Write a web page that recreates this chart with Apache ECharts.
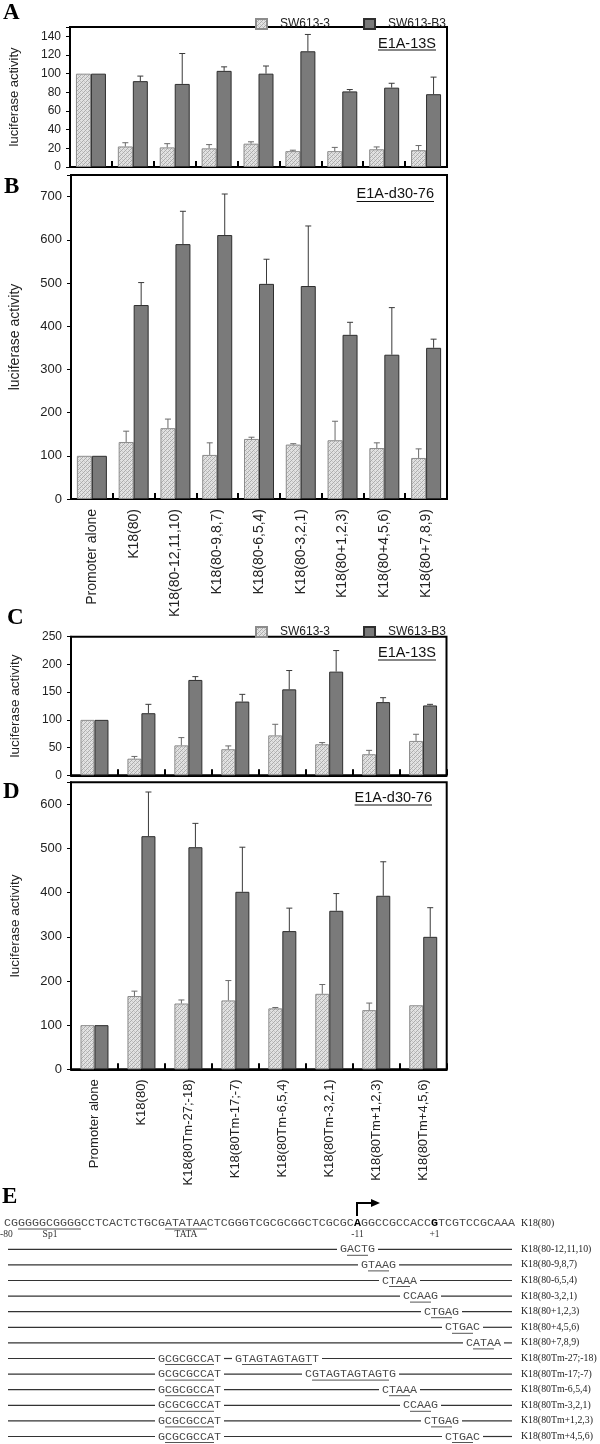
<!DOCTYPE html>
<html><head><meta charset="utf-8">
<script src="https://cdn.jsdelivr.net/npm/echarts@6/dist/echarts.min.js"></script>
<style>html,body{margin:0;padding:0;background:#fff}#c{width:600px;height:1444px}</style>
</head><body><div id="c"></div>
<script>
// ---------------- DATA ----------------
const catsAB = ['Promoter alone','K18(80)','K18(80-12,11,10)','K18(80-9,8,7)','K18(80-6,5,4)','K18(80-3,2,1)','K18(80+1,2,3)','K18(80+4,5,6)','K18(80+7,8,9)'];
const catsCD = ['Promoter alone','K18(80)','K18(80Tm-27;-18)','K18(80Tm-17;-7)','K18(80Tm-6,5,4)','K18(80Tm-3,2,1)','K18(80Tm+1,2,3)','K18(80Tm+4,5,6)'];
const seriesNames = ['SW613-3','SW613-B3'];

// Panel A (E1A-13S)
const aSW3    = [100, 22, 21, 20, 25, 17, 17, 19, 18];
const aSW3Err = [0, 4, 4, 4, 2, 1, 4, 2.5, 5];
const aB3     = [100, 92, 89, 103, 100, 124, 81, 85, 78];
const aB3Err  = [0, 5.4, 32.6, 4.3, 8.2, 18, 2, 4.7, 18.3];
// Panel B (E1A-d30-76)
const bSW3    = [100, 132, 164, 102, 139, 126, 136, 118, 95];
const bSW3Err = [0, 25, 21, 28, 4, 2, 44, 12, 21];
const bB3     = [100, 449, 590, 611, 498, 493, 380, 334, 350];
const bB3Err  = [0, 52, 76, 95, 57, 139, 29, 109, 20];
// Panel C (E1A-13S)
const cSW3    = [100, 30, 54, 47, 72, 56, 38, 62];
const cSW3Err = [0, 4, 14, 6, 20, 3, 7, 12];
const cB3     = [100, 112, 172, 133, 155, 187, 132, 126];
const cB3Err  = [0, 16, 6, 13, 34, 38, 8, 2];
// Panel D (E1A-d30-76)
const dSW3    = [100, 166, 149, 156, 138, 171, 134, 145];
const dSW3Err = [0, 11, 8, 45, 2, 21, 16, 0];
const dB3     = [100, 528, 503, 402, 313, 359, 393, 300];
const dB3Err  = [0, 100, 54, 101, 52, 39, 77, 66];

// Panel E sequence data
const seqMain = 'CGGGGGCGGGGCCTCACTCTGCGATATAACTCGGGTCGCGCGGCTCGCGCAGGCCGCCACCGTCGTCCGCAAA';
const seqBold = [50, 61];
const seqUnder = [[2,10],[23,28]];
const seqMainLabel = 'K18(80)';
const tmBox = [22,'GCGCGCCAT',1,7];
const seqRows = [
  {label:'K18(80-12,11,10)', segs:[[48,'GACTG',1,3]]},
  {label:'K18(80-9,8,7)',    segs:[[51,'GTAAG',1,3]]},
  {label:'K18(80-6,5,4)',    segs:[[54,'CTAAA',1,3]]},
  {label:'K18(80-3,2,1)',    segs:[[57,'CCAAG',1,3]]},
  {label:'K18(80+1,2,3)',    segs:[[60,'CTGAG',1,3]]},
  {label:'K18(80+4,5,6)',    segs:[[63,'CTGAC',1,3]]},
  {label:'K18(80+7,8,9)',    segs:[[66,'CATAA',1,3]]},
  {label:'K18(80Tm-27;-18)', segs:[tmBox,[33,'GTAGTAGTAGTT',1,10]]},
  {label:'K18(80Tm-17;-7)',  segs:[tmBox,[43,'CGTAGTAGTAGTG',1,11]]},
  {label:'K18(80Tm-6,5,4)',  segs:[tmBox,[54,'CTAAA',1,3]]},
  {label:'K18(80Tm-3,2,1)',  segs:[tmBox,[57,'CCAAG',1,3]]},
  {label:'K18(80Tm+1,2,3)',  segs:[tmBox,[60,'CTGAG',1,3]]},
  {label:'K18(80Tm+4,5,6)',  segs:[tmBox,[63,'CTGAC',1,3]]}
];
const seqMarks = [['-80',0,'left'],['Sp1',50,'center'],['TATA',186,'center']];

// ---------------- STYLE / LAYOUT ----------------
const SANS = '"Liberation Sans", Arial, Helvetica, sans-serif';
const SERIF = '"Liberation Serif", "Times New Roman", serif';
const MONO = '"Liberation Mono", "Courier New", monospace';

function hatchCanvas(){
  const c = document.createElement('canvas'); c.width = 4; c.height = 4;
  const g = c.getContext('2d');
  g.fillStyle = '#e2e2e2'; g.fillRect(0,0,4,4);
  g.fillStyle = '#acacac';
  g.fillRect(0,3,1,1); g.fillRect(1,2,1,1); g.fillRect(2,1,1,1); g.fillRect(3,0,1,1);
  g.fillStyle = '#c8c8c8';
  g.fillRect(0,1,1,1); g.fillRect(2,3,1,1);
  return c;
}
const hatch = {image: hatchCanvas(), repeat: 'repeat'};
const darkFill = '#7a7a7a';

const panels = [
  {grid:{left:65, top:27, width:382, height:140}, max:150, interval:20, labMax:140, cats:catsAB,
   s1:aSW3, e1:aSW3Err, s2:aB3, e2:aB3Err, bw:15, showX:false, yFont:12, nameFont:13,
   title:'E1A-13S', tx:436, ty:43.5, uy:50, letter:'A', lx:3, ly:13},
  {grid:{left:65, top:175, width:382, height:324}, max:750, interval:100, labMax:700, cats:catsAB,
   s1:bSW3, e1:bSW3Err, s2:bB3, e2:bB3Err, bw:15, showX:true, xFont:14, yFont:13, nameFont:14,
   title:'E1A-d30-76', tx:434, ty:194, uy:201.5, letter:'B', lx:4, ly:187},
  {grid:{left:66.5, top:636.7, width:380, height:138.6}, max:250, interval:50, labMax:250, cats:catsCD,
   s1:cSW3, e1:cSW3Err, s2:cB3, e2:cB3Err, bw:14, showX:false, yFont:12, nameFont:13.5,
   title:'E1A-13S', tx:436, ty:652.5, uy:660, letter:'C', lx:7, ly:618},
  {grid:{left:66, top:782.3, width:380.7, height:287}, max:650, interval:100, labMax:600, cats:catsCD,
   s1:dSW3, e1:dSW3Err, s2:dB3, e2:dB3Err, bw:14, showX:true, xFont:13, yFont:13, nameFont:13.5,
   title:'E1A-d30-76', tx:432, ty:798, uy:805, letter:'D', lx:3, ly:792}
];

const grids = [], xAxes = [], yAxes = [], series = [];

function errSeries(i, vals, errs, off, color){
  const data = [];
  vals.forEach((v, k) => { if (errs[k] > 0) data.push([k, v, v + errs[k]]); });
  return {
    type:'custom', xAxisIndex:i, yAxisIndex:i, z:5, silent:true,
    encode:{x:0, y:[1,2]}, data,
    renderItem(params, api){
      const k = api.value(0);
      const p0 = api.coord([k, api.value(1)]);
      const p1 = api.coord([k, api.value(2)]);
      const x = p0[0] + off;
      return {type:'group', children:[
        {type:'line', shape:{x1:x, y1:p0[1], x2:x, y2:p1[1]}, style:{stroke:color, lineWidth:1}},
        {type:'line', shape:{x1:x-3, y1:p1[1], x2:x+3, y2:p1[1]}, style:{stroke:color, lineWidth:1}}
      ]};
    }
  };
}

panels.forEach((p, i) => {
  grids.push(Object.assign({show:true, borderColor:'#000', borderWidth:2, containLabel:false}, p.grid));
  xAxes.push({
    type:'category', gridIndex:i, data:p.cats, boundaryGap:true,
    axisLine:{show:true, lineStyle:{color:'#000', width:2}},
    axisTick:{show:true, inside:true, length:6, lineStyle:{color:'#000', width:2}},
    axisLabel:{show:p.showX, rotate:90, interval:0, fontSize:p.xFont||13, margin:10, color:'#222', fontFamily:SANS},
    splitLine:{show:false}
  });
  yAxes.push({
    type:'value', gridIndex:i, min:0, max:p.max, interval:p.interval,
    axisLine:{show:true, lineStyle:{color:'#000', width:2}},
    axisTick:{show:true, length:4, lineStyle:{color:'#000', width:1}},
    axisLabel:{fontSize:p.yFont, color:'#222', margin:9, fontFamily:SANS,
      formatter:(v) => v > p.labMax ? '' : String(v)},
    splitLine:{show:false},
    name:'luciferase activity', nameLocation:'middle', nameGap:49,
    nameTextStyle:{fontSize:p.nameFont, color:'#222', fontFamily:SANS}
  });
  series.push({
    type:'bar', name:seriesNames[0], xAxisIndex:i, yAxisIndex:i, data:p.s1,
    barWidth:p.bw, barGap:'0%',
    itemStyle:{color:hatch, borderColor:'#8c8c8c', borderWidth:1}
  });
  series.push({
    type:'bar', name:seriesNames[1], xAxisIndex:i, yAxisIndex:i, data:p.s2,
    barWidth:p.bw, barGap:'0%',
    itemStyle:{color:darkFill, borderColor:'#2e2e2e', borderWidth:1}
  });
  series.push(errSeries(i, p.s1, p.e1, -p.bw/2, '#6a6a6a'));
  series.push(errSeries(i, p.s2, p.e2, p.bw/2, '#3a3a3a'));
});

// ---------------- GRAPHICS ----------------
const mc = document.createElement('canvas').getContext('2d');
function tw(text, font){ mc.font = font; return mc.measureText(text).width; }
const G = [];
function txt(x, y, text, font, fill, align, valign){
  G.push({type:'text', silent:true, z:100, style:{x, y, text, font, fill:fill||'#222',
    textAlign:align||'left', align:align||'left',
    textVerticalAlign:valign||'middle', verticalAlign:valign||'middle'}});
}
function ln(x1, y1, x2, y2, stroke, w){
  G.push({type:'line', silent:true, z:100, shape:{x1, y1, x2, y2}, style:{stroke:stroke||'#333', lineWidth:w||1}});
}

panels.forEach(p => {
  const f = '14.5px ' + SANS;
  txt(p.tx, p.ty, p.title, f, '#111', 'right', 'middle');
  ln(p.tx - tw(p.title, f), p.uy, p.tx, p.uy, '#111', 1.2);
  txt(p.lx, p.ly, p.letter, 'bold 23px ' + SERIF, '#000', 'left', 'middle');
});
txt(2, 1197, 'E', 'bold 23px ' + SERIF, '#000', 'left', 'middle');

// sequence panel
const X0 = 4, CW = 7.0, SEQF = 11.67;
const monoF = SEQF + 'px ' + MONO;
const monoB = 'bold ' + SEQF + 'px ' + MONO;
const labF = '9.8px ' + SERIF;
const seqY = 1223;
let start = 0;
seqBold.forEach(b => {
  if (b > start) txt(X0 + start*CW, seqY, seqMain.slice(start, b), monoF, '#4a4a4a');
  txt(X0 + b*CW, seqY, seqMain[b], monoB, '#000');
  start = b + 1;
});
txt(X0 + start*CW, seqY, seqMain.slice(start), monoF, '#4a4a4a');
seqUnder.forEach(u => ln(X0 + u[0]*CW, seqY + 6, X0 + (u[1]+1)*CW, seqY + 6, '#555', 1));
txt(521, seqY, seqMainLabel, labF, '#222');
const smallF = '9.5px ' + SERIF;
seqMarks.forEach(m => txt(m[1], 1234, m[0], smallF, '#333', m[2]));
const ax = X0 + seqBold[0]*CW + CW/2, gx = X0 + seqBold[1]*CW + CW/2;
txt(ax, 1234, '-11', smallF, '#333', 'center');
txt(gx, 1234, '+1', smallF, '#333', 'center');
// transcription start arrow
ln(ax - 0.5, 1216, ax - 0.5, 1203, '#000', 2);
ln(ax - 1.5, 1203, 372, 1203, '#000', 2);
G.push({type:'polygon', silent:true, z:100, shape:{points:[[371,1199],[380,1203],[371,1207]]}, style:{fill:'#000'}});

const rowY0 = 1249.3, rowDY = 15.6, lineL = 8, lineR = 512;
seqRows.forEach((r, k) => {
  const y = rowY0 + k*rowDY;
  let cur = lineL;
  r.segs.forEach(s => {
    const sx = X0 + s[0]*CW, ex = sx + s[1].length*CW;
    ln(cur, y, sx - 3, y, '#333', 1.2);
    txt(sx, y, s[1], monoF, '#4a4a4a');
    ln(sx + s[2]*CW, y + 6, sx + (s[3]+1)*CW, y + 6, '#555', 1);
    cur = ex + 3;
  });
  ln(cur, y, lineR, y, '#333', 1.2);
  txt(521, y, r.label, labF, '#222');
});

const legendCommon = {
  data: seriesNames, orient:'horizontal', itemWidth:11, itemHeight:10, itemGap:33, icon:'rect',
  selectedMode:false,
  textStyle:{fontSize:12, color:'#222', fontFamily:SANS, padding:[0,0,0,8]}
};

const chart = echarts.init(document.getElementById('c'), null, {renderer:'canvas'});
chart.setOption({
  animation:false,
  backgroundColor:'#fff',
  legend:[
    Object.assign({left:250, top:13}, legendCommon),
    Object.assign({left:250, top:621}, legendCommon)
  ],
  grid:grids, xAxis:xAxes, yAxis:yAxes, series,
  graphic:{elements:G}
});
</script>
</body></html>
